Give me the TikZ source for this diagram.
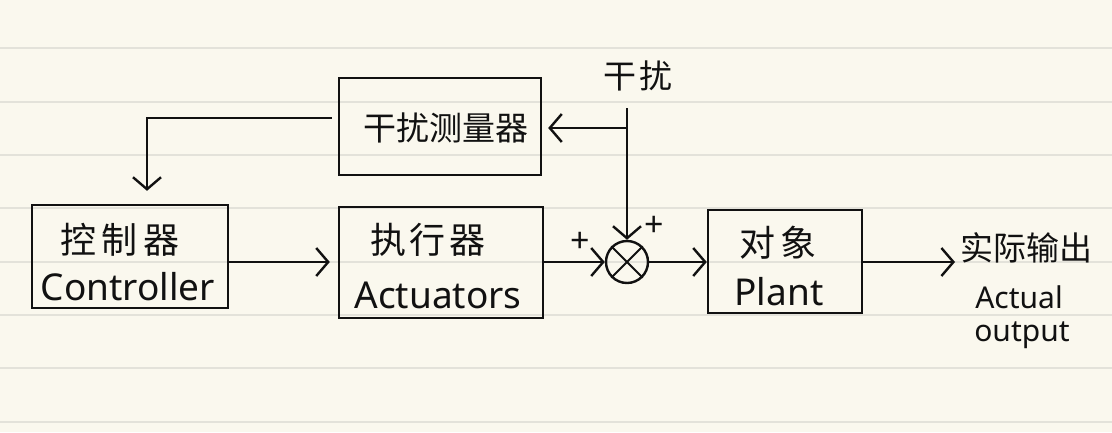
\documentclass[tikz,border=0pt]{standalone}
\usepackage{fontspec}
\setmainfont{Noto Sans}
\newfontfamily\cjk{Noto Sans CJK SC}
\usetikzlibrary{arrows.meta}
\definecolor{paper}{HTML}{FAF8EE}
\definecolor{rulec}{HTML}{E3E2DA}
\definecolor{ink}{HTML}{111111}
\begin{document}
\begin{tikzpicture}[x=1pt,y=-1pt,
  blk/.style={draw=ink,line width=2.4pt,inner sep=0pt,rectangle},
  conn/.style={draw=ink,line width=2.4pt,-{Straight Barb[length=12pt,width=28pt,line width=2.4pt]}},
  plain/.style={draw=ink,line width=2.4pt},
  zh/.style={inner sep=0pt,text=ink,font=\cjk\fontsize{36}{40}\selectfont},
  en/.style={inner sep=0pt,text=ink,font=\fontsize{37}{42}\selectfont},
  sm/.style={inner sep=0pt,text=ink,font=\fontsize{30}{34}\selectfont},
  pm/.style={inner sep=0pt,text=ink,font=\fontsize{34}{38}\selectfont}]
\fill[paper] (0,0) rectangle (1112,432);
\useasboundingbox (0,0) rectangle (1112,432);
\foreach \yy in {48,102,155,208,262,315,368,422}
  \draw[rulec,line width=1.5pt] (0,\yy) -- (1112,\yy);
% blocks
\node[blk,minimum width=196pt,minimum height=103pt] (ctrl) at (130,256.5) {};
\node[blk,minimum width=204pt,minimum height=111pt] (act) at (441,262.5) {};
\node[blk,minimum width=202pt,minimum height=97pt] (meas) at (440,126.5) {};
\node[blk,minimum width=154pt,minimum height=103pt] (plant) at (785,261.5) {};
\node[draw=ink,line width=2.4pt,circle,minimum size=42pt,inner sep=0pt] (sum) at (627,262) {};
\draw[plain,line width=1.8pt] (sum.45) -- (sum.225) (sum.135) -- (sum.315);
% texts
\node[zh] (ctrlzh) at (120,240) {控\hspace{6pt}制\hspace{6pt}器};
\node[en] (ctrlen) at (128,287) {Controller};
\node[zh] (actzh) at (428,240) {执\hspace{4pt}行\hspace{4pt}器};
\node[en] (acten) at (438,295) {Actuators};
\node[zh,font=\cjk\fontsize{33}{38}\selectfont] (measzh) at (446,128) {干扰测量器};
\node[zh] (plantzh) at (778,243) {对\hspace{6pt}象};
\node[en] (planten) at (779,292) {Plant};
\node[zh,font=\cjk\fontsize{33}{38}\selectfont] (dist) at (638,76) {干\hspace{4pt}扰};
\node[zh,font=\cjk\fontsize{33}{38}\selectfont] (outzh) at (1026,248) {实际输出};
\node[sm] (outen1) at (1019,297) {Actual};
\node[sm] (outen2) at (1022,335) {output};
\node[pm] (p1) at (580,242) {+};
\node[pm] (p2) at (654,226) {+};
% connectors
\coordinate (dtop) at (627,108);
\coordinate (br) at (627,128);
\coordinate (fbrow) at (0,118);
\coordinate (fbcol) at (147,0);
\coordinate (outtip) at (955,262);
\draw[conn] (ctrl.east |- sum) -- ([xshift=-8pt]act.west |- sum);
\draw[conn] (act.east |- sum) -- (sum.west);
\draw[conn] (sum.east) -- (plant.west |- sum);
\draw[conn] (plant.east |- sum) -- (outtip);
\draw[conn] (dtop) -- (sum.north);
\draw[conn,shorten >=6pt] (br) -- (meas.east |- br);
\draw[conn,shorten <=6pt,shorten >=13pt] (meas.west |- fbrow) -| (ctrl.north -| fbcol);
\end{tikzpicture}
\end{document}
